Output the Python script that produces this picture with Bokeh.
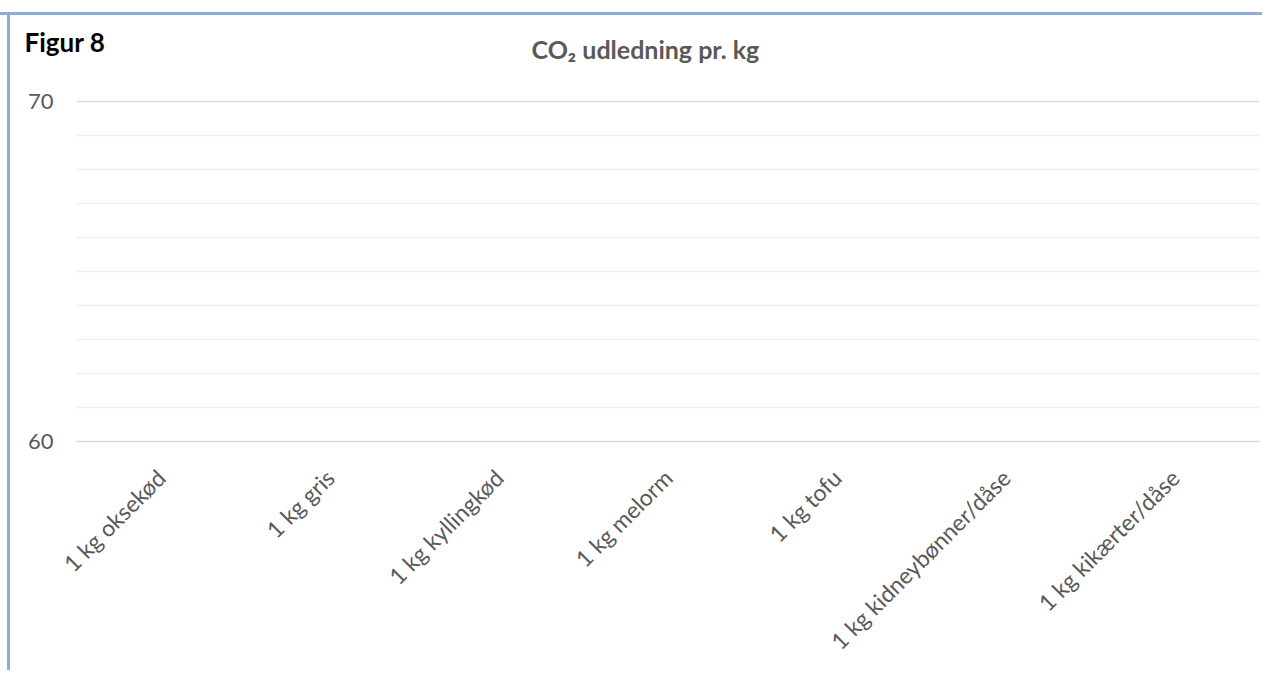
import math
from bokeh.plotting import figure
from bokeh.models import FactorRange, Range1d, FixedTicker, Title, ColumnDataSource
from bokeh.embed import file_html
from bokeh.resources import INLINE

# ---- data ----
categories = ["1 kg oksekød", "1 kg gris", "1 kg kyllingkød", "1 kg melorm",
              "1 kg tofu", "1 kg kidneybønner/dåse", "1 kg kikærter/dåse"]
co2_values = [float("nan"), float("nan"), float("nan"), float("nan"),
              float("nan"), float("nan"), float("nan")]
y_major_ticks = [60, 70]
y_minor_ticks = [61, 62, 63, 64, 65, 66, 67, 68, 69]
y_min, y_max = 60, 70.03
title_text = "CO₂ udledning pr. kg"
figure_label = "Figur 8"

FONT = "Lato"
GREY = "#595959"
BLUE = "#8FAADC"

W, H = 1262, 670
p = figure(width=W, height=H, output_backend="svg", toolbar_location=None,
           title=figure_label,
           x_range=FactorRange(*categories, range_padding=0),
           y_range=Range1d(y_min, y_max),
           min_border_left=76, min_border_right=3,
           min_border_top=100, min_border_bottom=229)
p.styles = {
    "background": (f"linear-gradient({BLUE},{BLUE}) 0px 12px / 100% 3px no-repeat, "
                   f"linear-gradient({BLUE},{BLUE}) 7px 12px / 3px 100% no-repeat, white"),
}
p.outline_line_color = None
p.background_fill_color = "white"
p.border_fill_color = None

# spacer panel next to the frame
p.add_layout(Title(text=" ", text_font=FONT, text_font_size="10px",
                   text_color="white", standoff=34), "above")
# chart title
p.add_layout(Title(text=title_text, text_font=FONT, text_font_style="bold",
                   text_font_size="25px", text_color=GREY, align="left",
                   offset=455, standoff=-22), "above")
# outer title: "Figur 8"
p.title.text_font = FONT
p.title.text_font_style = "bold"
p.title.text_font_size = "26px"
p.title.text_color = "black"
p.title.align = "left"
p.title.offset = -52
p.title.standoff = -30

src = ColumnDataSource(dict(cat=categories, val=co2_values))
p.vbar(x="cat", top="val", bottom=0, width=0.6, source=src,
       fill_color="#4472C4", line_color=None)

# y axis
p.yaxis.ticker = FixedTicker(ticks=y_major_ticks, minor_ticks=y_minor_ticks)
p.yaxis.axis_line_color = None
p.yaxis.major_tick_line_color = None
p.yaxis.minor_tick_line_color = None
p.yaxis.major_label_text_font = FONT
p.yaxis.major_label_text_font_size = "22px"
p.yaxis.major_label_text_color = GREY
p.yaxis.major_label_standoff = 17

p.ygrid.ticker = FixedTicker(ticks=y_major_ticks, minor_ticks=y_minor_ticks)
p.ygrid.grid_line_color = "#d9d9d9"
p.ygrid.grid_line_width = 1.5
p.ygrid.minor_grid_line_color = "#f0f0f0"
p.ygrid.minor_grid_line_width = 1.5
p.xgrid.grid_line_color = None

# x axis
p.xaxis.axis_line_color = "#d9d9d9"
p.xaxis.axis_line_width = 1.5
p.xaxis.major_tick_line_color = None
p.xaxis.minor_tick_line_color = None
p.xaxis.major_label_orientation = math.pi / 4
p.xaxis.major_label_text_font = FONT
p.xaxis.major_label_text_font_size = "23px"
p.xaxis.major_label_text_color = GREY
p.xaxis.major_label_standoff = 26

open("out.html", "w").write(file_html(p, INLINE))
